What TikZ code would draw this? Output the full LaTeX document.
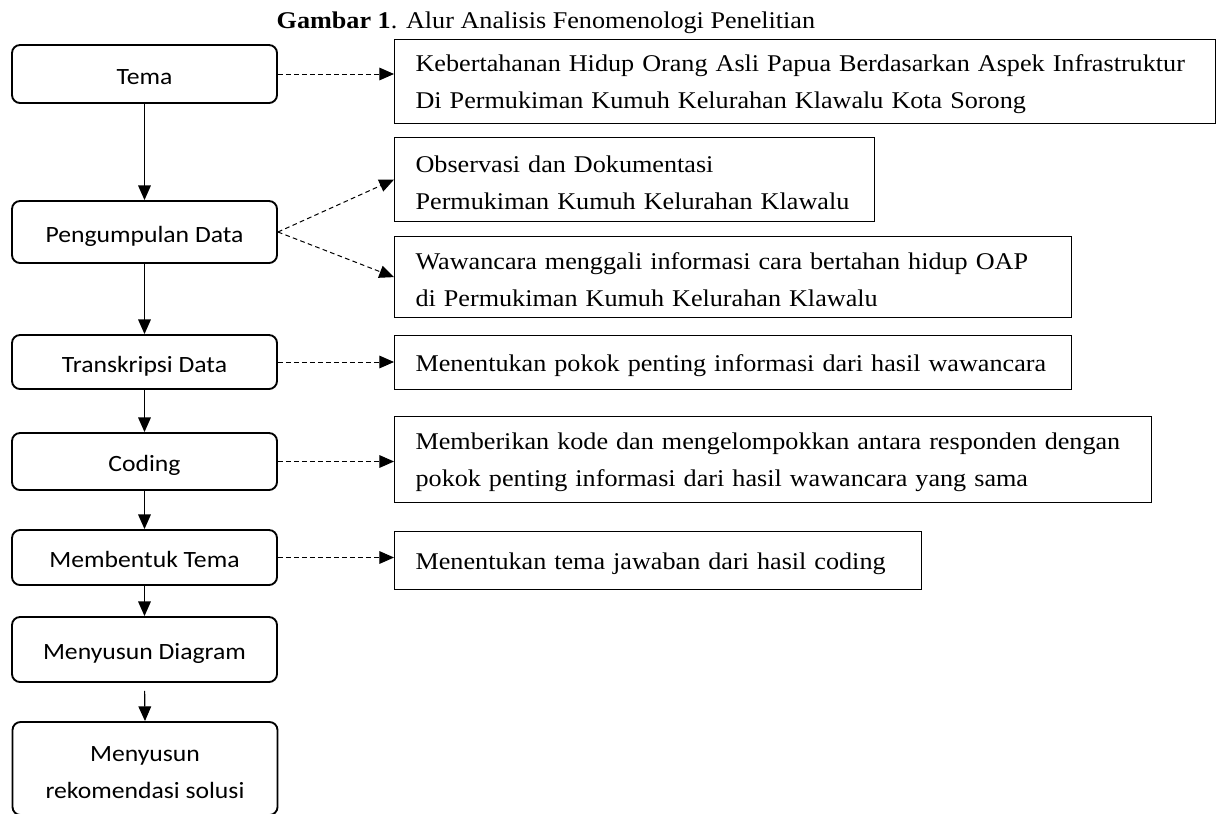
\documentclass[tikz,border=0pt]{standalone}
\usepackage{fontspec}
\setmainfont{Liberation Serif}[FakeStretch=1.09]
\newfontfamily\alurfont{Carlito}[FakeStretch=1.1]
\usetikzlibrary{arrows.meta}

\tikzset{
  kotak/.style={draw, rounded corners=6pt, line width=1.4pt, minimum width=198.75pt,
    inner sep=0pt, align=center, font=\alurfont\fontsize{17.5}{27.5}\selectfont},
  tahap/.style={kotak, text height=15pt, text depth=0pt},
  ket/.style={draw, line width=0.9pt, anchor=north west, align=left, inner xsep=15.75pt,
    inner ysep=0pt, font=\fontsize{18}{27.75}\selectfont,
    execute at begin node={\rule{0pt}{17pt}}},
  panah/.style={-{Triangle[length=11pt,width=9.5pt]}, line width=0.9pt},
  putus/.style={panah, line width=0.75pt, dash pattern=on 3.5pt off 2.5pt}
}

\begin{document}
\begin{tikzpicture}[x=0.75pt, y=-0.75pt]
      \useasboundingbox (0,0) rectangle (1221,814);
      \node[anchor=base west, font=\fontsize{18}{20}\selectfont] (judul) at (272,28)
        {\textbf{Gambar 1}. Alur Analisis Fenomenologi Penelitian};

      % tahapan analisis
      \node[tahap, minimum height=43.5pt] (tema) at (144.5,74) {Tema};
      \node[tahap, minimum height=46.5pt] (kumpul) at (144.5,232) {Pengumpulan Data};
      \node[tahap, minimum height=40.5pt] (transkrip) at (144.5,362) {Transkripsi Data};
      \node[tahap, minimum height=42.75pt] (koding) at (144.5,461.5) {Coding};
      \node[tahap, minimum height=41.25pt] (bentuk) at (144.5,557.5) {Membentuk Tema};
      \node[tahap, minimum height=48.75pt] (diagram) at (144.5,649.5) {Menyusun Diagram};
      \node[kotak, minimum height=69.75pt] (solusi) at (145,768.5)
        {\rule{0pt}{17pt}Menyusun\\rekomendasi solusi};

      % keterangan
      \node[ket, text width=584.25pt, minimum height=63pt] (ktema) at (394,39)
        {Kebertahanan Hidup Orang Asli Papua Berdasarkan Aspek Infrastruktur\\Di Permukiman Kumuh Kelurahan Klawalu Kota Sorong};
      \node[ket, text width=328.5pt, minimum height=63pt] (kobservasi) at (394,137)
        {Observasi dan Dokumentasi\\Permukiman Kumuh Kelurahan Klawalu};
      \node[ket, text width=476.25pt, minimum height=60.75pt] (kwawancara) at (394,236)
        {Wawancara menggali informasi cara bertahan hidup OAP\\di Permukiman Kumuh Kelurahan Klawalu};
      \node[ket, text width=476.25pt, minimum height=40.5pt] (kpokok) at (394,335)
        {Menentukan pokok penting informasi dari hasil wawancara};
      \node[ket, text width=536.25pt, minimum height=64.5pt] (kkode) at (394,416)
        {Memberikan kode dan mengelompokkan antara responden dengan\\pokok penting informasi dari hasil wawancara yang sama};
      \node[ket, text width=363.75pt, minimum height=43.5pt] (kjawaban) at (394,531)
        {Menentukan tema jawaban dari hasil coding};

      \draw[panah] (tema.south) -- (kumpul.north);
      \draw[panah] (kumpul.south) -- (transkrip.north);
      \draw[panah] (transkrip.south) -- (koding.north);
      \draw[panah] (koding.south) -- (bentuk.north);
      \draw[panah] (bentuk.south) -- (diagram.north);
      \draw[panah, shorten <=6pt] (diagram.south) -- (solusi.north);

      \draw[putus] (tema.east) -- (tema.east -| ktema.west);
      \draw[putus] (kumpul.east) -- (kobservasi.west);
      \draw[putus] (kumpul.east) -- (kwawancara.west);
      \draw[putus] (transkrip.east) -- (transkrip.east -| kpokok.west);
      \draw[putus] (koding.east) -- (koding.east -| kkode.west);
      \draw[putus] (bentuk.east) -- (bentuk.east -| kjawaban.west);
    \end{tikzpicture}
\end{document}
